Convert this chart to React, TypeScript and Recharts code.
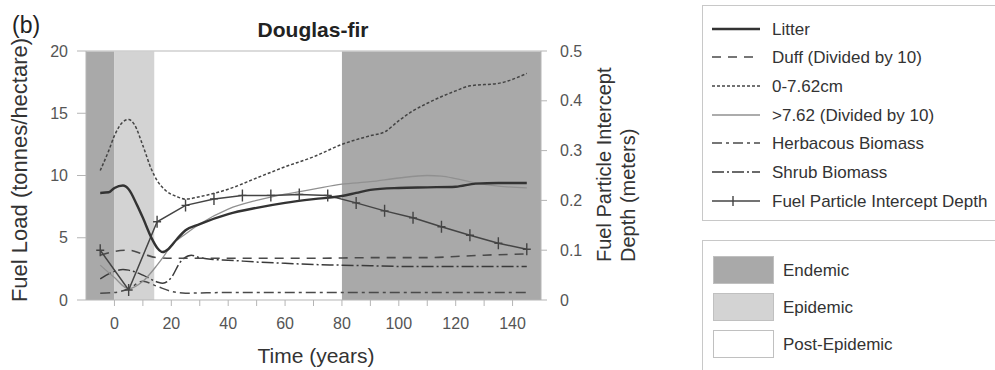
import React from 'react';
import { LineChart, Line, XAxis, YAxis, ReferenceArea, ReferenceLine } from 'recharts';

// ---- series (Fuel load in tonnes/hectare unless noted) ----
const litterYears = [-5, -2, 0, 3, 5, 8, 10, 13, 15, 17, 19, 22, 25, 30, 40, 50, 60, 70, 80, 85, 90, 100, 110, 120, 127, 135, 145];
const litterLoad = [8.6, 8.65, 9.0, 9.2, 8.9, 7.6, 6.6, 5.0, 4.2, 3.85, 4.1, 4.9, 5.6, 6.1, 6.9, 7.4, 7.8, 8.1, 8.35, 8.6, 8.85, 9.0, 9.05, 9.1, 9.35, 9.4, 9.4];

const duffYears = [-5, 0, 5, 10, 15, 20, 30, 50, 70, 90, 110, 120, 130, 145];
const duffLoad = [3.6, 3.9, 4.0, 3.7, 3.4, 3.35, 3.35, 3.35, 3.35, 3.4, 3.4, 3.5, 3.6, 3.7];

const fineYears = [-5, -2, 0, 3, 5, 7, 10, 13, 15, 18, 22, 25, 30, 40, 50, 60, 70, 80, 90, 95, 100, 105, 110, 120, 125, 135, 145];
const fineLoad = [10.4, 12.0, 13.2, 14.3, 14.5, 14.1, 12.4, 10.5, 9.6, 8.8, 8.3, 8.1, 8.3, 8.9, 9.8, 10.7, 11.5, 12.5, 13.2, 13.5, 14.4, 15.2, 15.8, 16.8, 17.2, 17.4, 18.2];

const coarseYears = [-5, 0, 5, 10, 15, 17, 20, 25, 30, 40, 50, 60, 70, 80, 90, 100, 110, 115, 120, 127, 135, 145];
const coarseLoad = [2.8, 1.8, 0.9, 1.5, 2.8, 3.4, 4.4, 5.3, 6.1, 7.3, 8.0, 8.5, 8.9, 9.3, 9.5, 9.8, 10.0, 9.95, 9.75, 9.4, 9.15, 9.0];

const herbYears = [-5, 0, 5, 10, 15, 20, 25, 40, 60, 80, 100, 120, 145];
const herbLoad = [0.55, 0.6, 0.9, 1.5, 1.1, 0.7, 0.55, 0.6, 0.6, 0.6, 0.6, 0.6, 0.6];

const shrubYears = [-5, 0, 3, 5, 10, 15, 17, 20, 23, 27, 30, 35, 40, 50, 60, 70, 80, 90, 100, 120, 145];
const shrubLoad = [1.7, 2.3, 2.45, 2.4, 2.0, 1.45, 1.35, 1.8, 3.0, 3.6, 3.4, 3.25, 3.2, 3.05, 2.95, 2.85, 2.8, 2.75, 2.7, 2.7, 2.7];

// depth in meters (right axis)
const depthYears = [-5, 5, 15, 25, 35, 45, 55, 65, 75, 85, 95, 105, 115, 125, 135, 145];
const depthMeters = [0.1, 0.02, 0.157, 0.19, 0.203, 0.21, 0.21, 0.212, 0.21, 0.195, 0.179, 0.165, 0.147, 0.13, 0.114, 0.102];

// ---- phases ----
const phaseNames = ['Endemic', 'Epidemic', 'Post-Epidemic'];
const phaseColors = ['#a9a9a9', '#d3d3d3', '#ffffff'];
const endemicBefore = [-10, 0];
const epidemicSpan = [0, 14];
const endemicAfter = [80, 150];

// ---- axes ----
const timeTicks = [0, 10, 20, 30, 40, 50, 60, 70, 80, 90, 100, 110, 120, 130, 140];
const loadTicks = [0, 5, 10, 15, 20];
const depthTicks = [0, 0.1, 0.2, 0.3, 0.4, 0.5];

const pairs = (xs: number[], ys: number[]) => xs.map((x, i) => ({ year: x, value: ys[i] }));

const FONT = 'Liberation Sans, Arial, Helvetica, sans-serif';

type SeriesStyle = { name: string; stroke: string; width: number; dash?: string; marker?: boolean };

const seriesStyles: SeriesStyle[] = [
  { name: 'Litter', stroke: '#333333', width: 2.4 },
  { name: 'Duff (Divided by 10)', stroke: '#4a4a4a', width: 1.6, dash: '9 7' },
  { name: '0-7.62cm', stroke: '#444444', width: 1.5, dash: '3 2' },
  { name: '>7.62 (Divided by 10)', stroke: '#909090', width: 1.3 },
  { name: 'Herbacous Biomass', stroke: '#4a4a4a', width: 1.5, dash: '10 4 3 4' },
  { name: 'Shrub Biomass', stroke: '#3a3a3a', width: 1.5, dash: '12 3 2 3' },
  { name: 'Fuel Particle Intercept Depth', stroke: '#444444', width: 1.5, marker: true },
];

const PlusDot = (props: any) => {
  const { cx, cy, index } = props;
  if (cx == null || cy == null) return <g key={`pd-${index}`} />;
  return (
    <path
      key={`pd-${index}`}
      d={`M${cx - 4},${cy}H${cx + 4}M${cx},${cy - 6}V${cy + 6}`}
      stroke="#444"
      strokeWidth={1.4}
      fill="none"
    />
  );
};

const tickStyle = { fill: '#555', fontSize: 16, fontFamily: FONT };
const axisStroke = '#b5b5b5';

function LegendPanel() {
  const rowYs = [29, 57, 86, 115, 143, 172, 201];
  const swatchYs = [256, 293, 330];
  return (
    <g fontFamily={FONT}>
      <rect x={702.5} y={5.5} width={310} height={215} fill="#fff" stroke="#c8c8c8" />
      {seriesStyles.map((s, i) => (
        <g key={s.name}>
          <line
            x1={712}
            x2={760}
            y1={rowYs[i]}
            y2={rowYs[i]}
            stroke={s.stroke}
            strokeWidth={s.width}
            strokeDasharray={s.dash}
          />
          {s.marker && <path d={`M733,${rowYs[i] - 5}V${rowYs[i] + 5}`} stroke={s.stroke} strokeWidth={1.4} />}
          <text x={772} y={rowYs[i] + 6} fontSize={17} fill="#333">
            {s.name}
          </text>
        </g>
      ))}
      <rect x={702.5} y={240.5} width={310} height={150} fill="#fff" stroke="#c8c8c8" />
      {phaseNames.map((p, i) => (
        <g key={p}>
          <rect x={713.5} y={swatchYs[i] + 0.5} width={60} height={27} fill={phaseColors[i]} stroke="#c0c0c0" />
          <text x={783} y={swatchYs[i] + 20} fontSize={17} fill="#333">
            {p}
          </text>
        </g>
      ))}
    </g>
  );
}

export default function App() {
  return (
    <div style={{ position: 'absolute', left: 0, top: 0, width: 995, height: 370, background: '#fff' }}>
      <div style={{ position: 'absolute', left: 0, top: 0 }}>
        <LineChart width={995} height={370} margin={{ top: 51, right: 394, bottom: 40, left: 30 }}>
          <XAxis
            type="number"
            dataKey="year"
            domain={[-10, 150]}
            ticks={timeTicks}
            tickFormatter={(v: number) => (v % 20 === 0 ? String(v) : '')}
            allowDataOverflow
            stroke={axisStroke}
            tick={tickStyle}
            tickSize={6}
            tickMargin={12}
            height={30}
          />
          <YAxis
            yAxisId="left"
            type="number"
            domain={[0, 20]}
            ticks={loadTicks}
            stroke={axisStroke}
            tick={tickStyle}
            tickSize={9}
            tickMargin={9}
            width={56}
          />
          <YAxis
            yAxisId="right"
            orientation="right"
            type="number"
            domain={[0, 0.5]}
            ticks={depthTicks}
            stroke={axisStroke}
            tick={tickStyle}
            tickSize={6}
            tickMargin={13}
            width={60}
          />
          <ReferenceArea yAxisId="left" x1={endemicBefore[0]} x2={endemicBefore[1]} y1={0} y2={20} fill={phaseColors[0]} fillOpacity={1} stroke="none" />
          <ReferenceArea yAxisId="left" x1={epidemicSpan[0]} x2={epidemicSpan[1]} y1={0} y2={20} fill={phaseColors[1]} fillOpacity={1} stroke="none" />
          <ReferenceArea yAxisId="left" x1={endemicAfter[0]} x2={endemicAfter[1]} y1={0} y2={20} fill={phaseColors[0]} fillOpacity={1} stroke="none" />
          <ReferenceLine yAxisId="left" y={20} stroke="#cfcfcf" strokeWidth={1.5} />

          <Line yAxisId="left" data={pairs(herbYears, herbLoad)} dataKey="value" type="monotone" stroke={seriesStyles[4].stroke} strokeWidth={seriesStyles[4].width} strokeDasharray={seriesStyles[4].dash} dot={false} activeDot={false} isAnimationActive={false} />
          <Line yAxisId="left" data={pairs(shrubYears, shrubLoad)} dataKey="value" type="monotone" stroke={seriesStyles[5].stroke} strokeWidth={seriesStyles[5].width} strokeDasharray={seriesStyles[5].dash} dot={false} activeDot={false} isAnimationActive={false} />
          <Line yAxisId="left" data={pairs(duffYears, duffLoad)} dataKey="value" type="monotone" stroke={seriesStyles[1].stroke} strokeWidth={seriesStyles[1].width} strokeDasharray={seriesStyles[1].dash} dot={false} activeDot={false} isAnimationActive={false} />
          <Line yAxisId="left" data={pairs(coarseYears, coarseLoad)} dataKey="value" type="monotone" stroke={seriesStyles[3].stroke} strokeWidth={seriesStyles[3].width} dot={false} activeDot={false} isAnimationActive={false} />
          <Line yAxisId="left" data={pairs(fineYears, fineLoad)} dataKey="value" type="monotone" stroke={seriesStyles[2].stroke} strokeWidth={seriesStyles[2].width} strokeDasharray={seriesStyles[2].dash} dot={false} activeDot={false} isAnimationActive={false} />
          <Line yAxisId="right" data={pairs(depthYears, depthMeters)} dataKey="value" type="linear" stroke={seriesStyles[6].stroke} strokeWidth={seriesStyles[6].width} dot={PlusDot} activeDot={false} isAnimationActive={false} />
          <Line yAxisId="left" data={pairs(litterYears, litterLoad)} dataKey="value" type="monotone" stroke={seriesStyles[0].stroke} strokeWidth={seriesStyles[0].width} dot={false} activeDot={false} isAnimationActive={false} />
        </LineChart>
      </div>
      <svg width={995} height={370} style={{ position: 'absolute', left: 0, top: 0, pointerEvents: 'none' }}>
        <g fontFamily={FONT} fill="#222">
          <text x={12} y={33} fontSize={23}>(b)</text>
          <text x={313} y={37} fontSize={21} fontWeight="bold" textAnchor="middle">Douglas-fir</text>
          <text x={316} y={363} fontSize={21} textAnchor="middle" fill="#333">Time (years)</text>
          <text x={27} y={170} fontSize={22} textAnchor="middle" fill="#333" transform="rotate(-90 27 170)">
            Fuel Load (tonnes/hectare)
          </text>
          <text x={611} y={262} fontSize={20} textAnchor="start" fill="#333" transform="rotate(-90 611 262)">
            Fuel Particle Intercept
          </text>
          <text x={635} y={262} fontSize={20} textAnchor="start" fill="#333" transform="rotate(-90 635 262)">
            Depth (meters)
          </text>
        </g>
        <LegendPanel />
      </svg>
    </div>
  );
}
